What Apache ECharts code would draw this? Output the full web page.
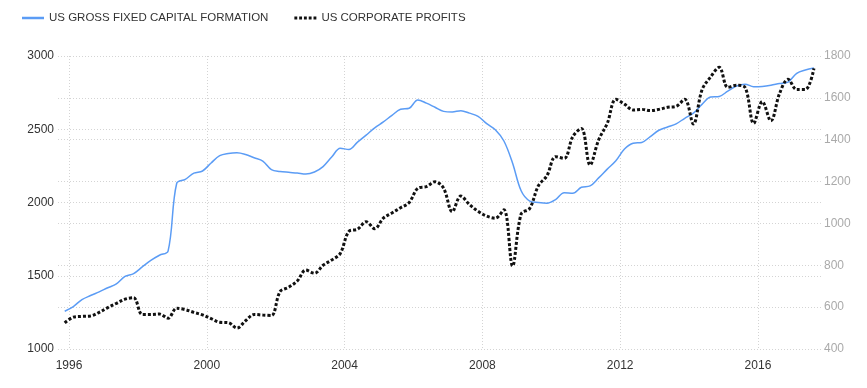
<!DOCTYPE html>
<html><head><meta charset="utf-8">
<script src="https://cdn.jsdelivr.net/npm/echarts@6/dist/echarts.min.js"></script>
<style>html,body{margin:0;padding:0;background:#fff}#c{width:867px;height:388px}</style>
</head><body><div id="c"></div>
<script>
const quarters = [
  '1995Q4',
  '1996Q1','1996Q2','1996Q3','1996Q4','1997Q1','1997Q2','1997Q3','1997Q4',
  '1998Q1','1998Q2','1998Q3','1998Q4','1999Q1','1999Q2','1999Q3','1999Q4',
  '2000Q1','2000Q2','2000Q3','2000Q4','2001Q1','2001Q2','2001Q3','2001Q4',
  '2002Q1','2002Q2','2002Q3','2002Q4','2003Q1','2003Q2','2003Q3','2003Q4',
  '2004Q1','2004Q2','2004Q3','2004Q4','2005Q1','2005Q2','2005Q3','2005Q4',
  '2006Q1','2006Q2','2006Q3','2006Q4','2007Q1','2007Q2','2007Q3','2007Q4',
  '2008Q1','2008Q2','2008Q3','2008Q4','2009Q1','2009Q2','2009Q3','2009Q4',
  '2010Q1','2010Q2','2010Q3','2010Q4','2011Q1','2011Q2','2011Q3','2011Q4',
  '2012Q1','2012Q2','2012Q3','2012Q4','2013Q1','2013Q2','2013Q3','2013Q4',
  '2014Q1','2014Q2','2014Q3','2014Q4','2015Q1','2015Q2','2015Q3','2015Q4',
  '2016Q1','2016Q2','2016Q3','2016Q4','2017Q1','2017Q2','2017Q3'
];
// US Gross Fixed Capital Formation (left axis)
const gfcf = [
  1258,
  1290,1337,1365,1390, 1418,1444,1495,1515,
  1560,1605,1640,1668, 2130,2158,2200,2215,
  2270,2320,2335,2340, 2328,2305,2283,2225,
  2212,2206,2201,2194, 2208,2245,2310,2370,
  2362,2412,2460,2510, 2550,2595,2636,2643,
  2700,2678,2650,2622, 2618,2627,2610,2588,
  2538,2497,2420,2270, 2080,2010,2000,1995,
  2020,2067,2063,2104, 2113,2168,2228,2285,
  2365,2405,2410,2450, 2493,2515,2537,2575,
  2610,2670,2720,2724, 2760,2795,2808,2790,
  2792,2800,2812,2822, 2882,2905,2918
];
// US Corporate Profits (right axis)
const profits = [
  525,
  552,556,558,575, 598,618,638,645,
  565,565,567,547, 595,588,575,563,
  545,528,526,500, 535,565,562,560,
  674,695,725,777, 762,800,825,857,
  962,972,1008,975, 1025,1050,1075,1100,
  1168,1176,1199,1168, 1056,1131,1090,1058,
  1035,1025,1065,797, 1045,1072,1180,1228,
  1319,1311,1415,1454, 1279,1399,1478,1593,
  1570,1542,1545,1539, 1545,1555,1560,1593,
  1475,1638,1700,1746, 1650,1660,1650,1478,
  1582,1490,1620,1689, 1640,1640,1741
];
const yearTicks = [1996, 2000, 2004, 2008, 2012, 2016];
const seriesNames = ['US GROSS FIXED CAPITAL FORMATION', 'US CORPORATE PROFITS'];

// quarter label -> mid-quarter decimal year
const qx = quarters.map(q => +q.slice(0, 4) + (+q.slice(5) - 1) * 0.25 + 0.125);

const font = "'Liberation Sans', Arial, sans-serif";
const gridLine = { show: true, lineStyle: { color: '#d4d4d4', type: [1, 2], width: 1 } };
const plain = v => String(v);

const chart = echarts.init(document.getElementById('c'), null, { renderer: 'canvas' });
chart.setOption({
  animation: false,
  backgroundColor: '#fff',
  legend: {
    left: 22, top: 12, padding: 0,
    itemWidth: 22, itemHeight: 14, itemGap: 26,
    textStyle: { fontFamily: font, fontSize: 11.5, color: '#333' },
    data: [
      { name: seriesNames[0], icon: 'path://M0,0h22v2.5h-22z', itemStyle: { color: '#5b9cf5' } },
      { name: seriesNames[1], icon: 'path://M0,0h3v3h-3zM5,0h3v3h-3zM10,0h3v3h-3zM15,0h3v3h-3zM20,0h3v3h-3z', itemStyle: { color: '#111' } }
    ]
  },
  grid: { left: 58, right: 46, top: 56, bottom: 39, containLabel: false },
  xAxis: {
    type: 'value', min: 1995.68, max: 2017.83,
    axisLine: { show: false },
    axisTick: { show: false, customValues: yearTicks },
    axisLabel: { customValues: yearTicks, margin: 11, fontFamily: font, fontSize: 12, color: '#333', formatter: plain },
    splitLine: gridLine
  },
  yAxis: [
    {
      type: 'value', min: 1000, max: 3000, interval: 500, position: 'left',
      axisLine: { show: false }, axisTick: { show: false },
      axisLabel: { margin: 4, fontFamily: font, fontSize: 12, color: '#333', formatter: plain },
      splitLine: gridLine
    },
    {
      type: 'value', min: 400, max: 1800, interval: 200, position: 'right',
      axisLine: { show: false }, axisTick: { show: false },
      axisLabel: { margin: 3, fontFamily: font, fontSize: 12, color: '#aaa', formatter: plain },
      splitLine: gridLine
    }
  ],
  series: [
    {
      name: seriesNames[0], type: 'line', yAxisIndex: 0,
      data: qx.map((x, i) => [x, gfcf[i]]),
      symbol: 'none', showSymbol: false, smooth: 0.35,
      lineStyle: { color: '#5b9cf5', width: 1.5 },
      itemStyle: { color: '#5b9cf5' }
    },
    {
      name: seriesNames[1], type: 'line', yAxisIndex: 1,
      data: qx.map((x, i) => [x, profits[i]]),
      symbol: 'none', showSymbol: false, smooth: 0.35,
      lineStyle: { color: '#111', width: 3, type: [3, 2] },
      itemStyle: { color: '#111' }
    }
  ]
});
</script>
</body></html>
